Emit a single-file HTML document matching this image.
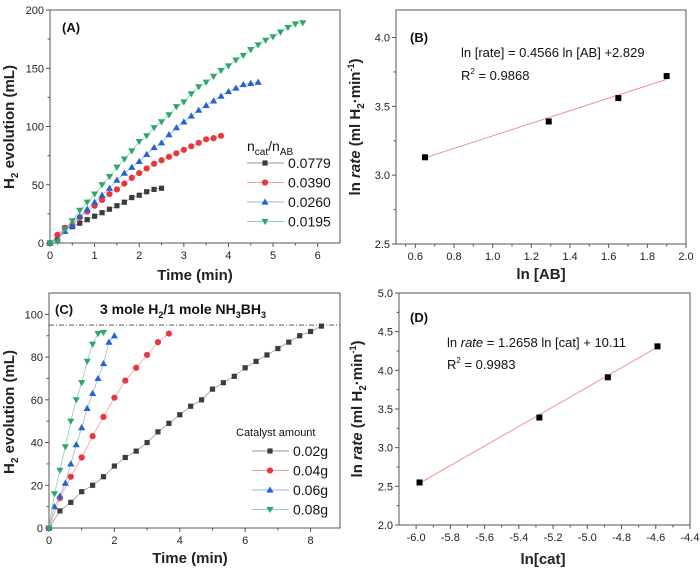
<!DOCTYPE html>
<html><head><meta charset="utf-8">
<style>
html,body{margin:0;padding:0;background:#fff;}
svg{display:block;font-family:"Liberation Sans",sans-serif;}
</style></head>
<body>
<svg id="chart" width="700" height="572" viewBox="0 0 700 572" xmlns="http://www.w3.org/2000/svg"></svg>
<script>
// ---------- Panel A data ----------
const aSeriesNames = ["0.0779","0.0390","0.0260","0.0195"];
const aStep = 1/6;
const aS1 = [0,4,13,14,17,20,23,26,29,32,35,39,41,44,46,47];
const aS2 = [0,7,13,16,22,27,32,37,42,46,51,56,60,64,68,71,74,77,80,83,86,89,90,92];
const aS3 = [0,2,10,15,23,29,35,41,47,54,60,65,70,76,82,86,93,99,104,109,114,118,122,126,130,133,136,137,138];
const aS4 = [0,1,12,19,28,35,42,50,57,65,72,79,87,92,99,104,110,117,121,128,134,138,143,148,152,157,161,166,170,174,177,181,185,188,189];
const aXTicks = [0,1,2,3,4,5,6];
const aYTicks = [0,50,100,150,200];
// ---------- Panel B data ----------
const bX = [0.65,1.29,1.65,1.90];
const bY = [3.13,3.39,3.56,3.72];
const bXTicks = [0.6,0.8,1.0,1.2,1.4,1.6,1.8,2.0];
const bYTicks = [2.5,3.0,3.5,4.0];
const bSlope = 0.4566, bIntercept = 2.829;
// ---------- Panel C data ----------
const cSeriesNames = ["0.02g","0.04g","0.06g","0.08g"];
const cS1 = [0,8,12,17,20,24,29,33,36,40,45,49,53,57,60,65,68,71,75,78,81,84,87,90,92,94.5];
const cS2 = [0,14,24,33,43,52,61,69,75,81,87,91];
const cS3 = [0,10,15,21,30,39,47,56,63,70,77,87,90];
const cS4 = [0,16,27,38,50,60,68,78,86,91,91.5];
const cSteps = [1/3,1/3,1/6,1/6];
const cXTicks = [0,2,4,6,8];
const cYTicks = [0,20,40,60,80,100];
const cRef = 95;
// ---------- Panel D data ----------
const dX = [-5.98,-5.28,-4.88,-4.59];
const dY = [2.55,3.39,3.91,4.31];
const dXTicks = [-6.0,-5.8,-5.6,-5.4,-5.2,-5.0,-4.8,-4.6,-4.4];
const dYTicks = [2.0,2.5,3.0,3.5,4.0,4.5,5.0];
const dSlope = 1.2658, dIntercept = 10.11;

const NS="http://www.w3.org/2000/svg";
const svg=document.getElementById('chart');
function el(tag,attrs,parent){const e=document.createElementNS(NS,tag);for(const k in attrs)e.setAttribute(k,attrs[k]);(parent||svg).appendChild(e);return e;}
function txt(s,attrs,parent){const e=el('text',attrs,parent);e.textContent=s;return e;}
const colors=["#3c3c3c","#e8383d","#2563d0","#2ea86a"];
const lineColors=["#999","#f3a0a0","#9bb5ea","#8fd0ae"];

function marker(g,shape,cx,cy,col,s){
  let m;
  if(shape===0) m=el('rect',{x:cx-s,y:cy-s,width:2*s,height:2*s,fill:col},g);
  else if(shape===1) m=el('circle',{cx:cx,cy:cy,r:s+0.5,fill:col},g);
  else if(shape===2) m=el('polygon',{points:`${cx},${cy-s-1} ${cx-s-1},${cy+s} ${cx+s+1},${cy+s}`,fill:col},g);
  else m=el('polygon',{points:`${cx},${cy+s+1} ${cx-s-1},${cy-s} ${cx+s+1},${cy-s}`,fill:col},g);
  
  
  return m;
}

function axes(name,L,R,T,B,xmin,xmax,ymin,ymax,xt,yt,xfmt,yfmt,xminor,yminor){
  const g=el('g',{});
  const sx=v=>L+(v-xmin)/(xmax-xmin)*(R-L);
  const sy=v=>B-(v-ymin)/(ymax-ymin)*(B-T);
  el('rect',{x:L,y:T,width:R-L,height:B-T,fill:'none',stroke:'#555','stroke-width':1},g);
  xt.forEach(v=>{const x=sx(v);el('line',{x1:x,x2:x,y1:B,y2:B+4,stroke:'#555'},g);
    const t=txt(xfmt(v),{x:x,y:B+16,'text-anchor':'middle','font-size':11,fill:'#222'},g);
    });
  xminor.forEach(v=>{const x=sx(v);el('line',{x1:x,x2:x,y1:B,y2:B+2.5,stroke:'#555'},g);});
  yt.forEach(v=>{const y=sy(v);el('line',{x1:L-4,x2:L,y1:y,y2:y,stroke:'#555'},g);
    const t=txt(yfmt(v),{x:L-6,y:y+4,'text-anchor':'end','font-size':11,fill:'#222'},g);
    });
  yminor.forEach(v=>{const y=sy(v);el('line',{x1:L-2.5,x2:L,y1:y,y2:y,stroke:'#555'},g);});
  return {sx,sy,g};
}
function halves(ticks){const r=[];for(let i=0;i<ticks.length-1;i++)r.push((ticks[i]+ticks[i+1])/2);return r;}

// ===== Panel A =====
{
  const A=axes('panel-a',50,340,10,243,0,6.5,0,200,aXTicks,aYTicks,v=>v,v=>v,halves(aXTicks.concat([7])).filter(v=>v<6.5),halves(aYTicks));
  const series=[aS1,aS2,aS3,aS4];
  series.forEach((s,i)=>{
    const g=el('g',{});
    el('polyline',{points:s.map((v,j)=>A.sx(j*aStep)+','+A.sy(v)).join(' '),fill:'none',stroke:lineColors[i],'stroke-width':0.8},g);
    s.forEach((v,j)=>marker(g,i,A.sx(j*aStep),A.sy(v),colors[i],2.6));
  });
  txt('(A)',{x:62,y:32,'font-size':13,'font-weight':'bold',fill:'#111',});
  const lg=el('g',{});
  const lt=txt('',{x:247,y:151,'font-size':14,fill:'#111'},lg);
  lt.innerHTML='n<tspan font-size="10" dy="4">cat</tspan><tspan dy="-4">/n</tspan><tspan font-size="10" dy="4">AB</tspan>';
  aSeriesNames.forEach((n,i)=>{const y=163+i*19.5;
    const e=el('g',{},lg);
    el('line',{x1:247,x2:284,y1:y,y2:y,stroke:lineColors[i],'stroke-width':1},e);
    marker(e,i,265,y,colors[i],2.6);
    txt(n,{x:288,y:y+5,'font-size':14,fill:'#111'},e);});
  txt('Time (min)',{x:195,y:280,'text-anchor':'middle','font-size':15,'font-weight':'bold',fill:'#222',});
  const yt=txt('',{transform:'translate(14,127) rotate(-90)','text-anchor':'middle','font-size':15,'font-weight':'bold',fill:'#222',});
  yt.innerHTML='H<tspan font-size="10" dy="4">2</tspan><tspan dy="-4"> evolution (mL)</tspan>';
}
// ===== Panel B =====
{
  const B=axes('panel-b',396,686,10,244,0.5,2.0,2.5,4.2,bXTicks,bYTicks,v=>v.toFixed(1),v=>v.toFixed(1),halves([0.5].concat(bXTicks)),halves(bYTicks.concat([4.5])).filter(v=>v<4.2));
  const g=el('g',{});
  const x0=bX[0],x1=bX[bX.length-1];
  el('line',{x1:B.sx(x0),y1:B.sy(bSlope*x0+bIntercept),x2:B.sx(x1),y2:B.sy(bSlope*x1+bIntercept),stroke:'#e88','stroke-width':0.9,},g);
  bX.forEach((x,i)=>marker(g,0,B.sx(x),B.sy(bY[i]),'#000',3));
  txt('(B)',{x:410,y:42,'font-size':13,'font-weight':'bold',fill:'#111',});
  txt('ln [rate] = 0.4566 ln [AB] +2.829',{x:461,y:57,'font-size':13,fill:'#111',});
  const r=txt('',{x:461,y:80,'font-size':13,fill:'#111',});
  r.innerHTML='R<tspan font-size="8" dy="-6">2</tspan><tspan dy="6"> = 0.9868</tspan>';
  txt('ln [AB]',{x:541,y:279,'text-anchor':'middle','font-size':15,'font-weight':'bold',fill:'#222',});
  const yt=txt('',{transform:'translate(360,127) rotate(-90)','text-anchor':'middle','font-size':15,'font-weight':'bold',fill:'#222',});
  yt.innerHTML='ln <tspan font-style="italic">rate</tspan> (ml H<tspan font-size="10" dy="4">2</tspan><tspan dy="-4">·min</tspan><tspan font-size="9" dy="-6">-1</tspan><tspan dy="6">)</tspan>';
}
// ===== Panel C =====
{
  const C=axes('panel-c',49,340,293,528,0,8.9,0,110,cXTicks,cYTicks,v=>v,v=>v,halves(cXTicks),halves(cYTicks));
  el('line',{x1:49,x2:340,y1:C.sy(cRef),y2:C.sy(cRef),stroke:'#444','stroke-width':0.8,'stroke-dasharray':'5,2,1,2',});
  const series=[cS1,cS2,cS3,cS4];
  series.forEach((s,i)=>{
    const g=el('g',{});
    el('polyline',{points:s.map((v,j)=>C.sx(j*cSteps[i])+','+C.sy(v)).join(' '),fill:'none',stroke:lineColors[i],'stroke-width':0.8},g);
    s.forEach((v,j)=>marker(g,i,C.sx(j*cSteps[i]),C.sy(v),colors[i],2.6));
  });
  txt('(C)',{x:55,y:314,'font-size':13,'font-weight':'bold',fill:'#111',});
  const h=txt('',{x:100,y:314,'font-size':14,'font-weight':'bold',fill:'#111',});
  h.innerHTML='3 mole H<tspan font-size="9" dy="4">2</tspan><tspan dy="-4">/1 mole NH</tspan><tspan font-size="9" dy="4">3</tspan><tspan dy="-4">BH</tspan><tspan font-size="9" dy="4">3</tspan>';
  const lg=el('g',{});
  txt('Catalyst amount',{x:236,y:436,'font-size':11,fill:'#111'},lg);
  cSeriesNames.forEach((n,i)=>{const y=451+i*19.5;
    const e=el('g',{},lg);
    el('line',{x1:252,x2:289,y1:y,y2:y,stroke:lineColors[i],'stroke-width':1},e);
    marker(e,i,270,y,colors[i],2.6);
    txt(n,{x:293,y:y+5,'font-size':14,fill:'#111'},e);});
  txt('Time (min)',{x:190,y:563,'text-anchor':'middle','font-size':15,'font-weight':'bold',fill:'#222',});
  const yt=txt('',{transform:'translate(14,412) rotate(-90)','text-anchor':'middle','font-size':15,'font-weight':'bold',fill:'#222',});
  yt.innerHTML='H<tspan font-size="10" dy="4">2</tspan><tspan dy="-4"> evolution (mL)</tspan>';
}
// ===== Panel D =====
{
  const D=axes('panel-d',399,690,293,525,-6.1,-4.4,2.0,5.0,dXTicks,dYTicks,v=>v.toFixed(1),v=>v.toFixed(1),halves([-6.2].concat(dXTicks)).filter(v=>v>-6.1),halves(dYTicks));
  const g=el('g',{});
  const x0=dX[0],x1=dX[dX.length-1];
  el('line',{x1:D.sx(x0),y1:D.sy(dSlope*x0+dIntercept),x2:D.sx(x1),y2:D.sy(dSlope*x1+dIntercept),stroke:'#e88','stroke-width':0.9,},g);
  dX.forEach((x,i)=>marker(g,0,D.sx(x),D.sy(dY[i]),'#000',3));
  txt('(D)',{x:410,y:322,'font-size':13,'font-weight':'bold',fill:'#111',});
  const eq=txt('',{x:447,y:347,'font-size':13,fill:'#111',});
  eq.innerHTML='ln <tspan font-style="italic">rate</tspan> = 1.2658 ln [cat] + 10.11';
  const r=txt('',{x:447,y:369,'font-size':13,fill:'#111',});
  r.innerHTML='R<tspan font-size="8" dy="-6">2</tspan><tspan dy="6"> = 0.9983</tspan>';
  txt('ln[cat]',{x:543,y:564,'text-anchor':'middle','font-size':15,'font-weight':'bold',fill:'#222',});
  const yt=txt('',{transform:'translate(362,409) rotate(-90)','text-anchor':'middle','font-size':15,'font-weight':'bold',fill:'#222',});
  yt.innerHTML='ln <tspan font-style="italic">rate</tspan> (ml H<tspan font-size="10" dy="4">2</tspan><tspan dy="-4">·min</tspan><tspan font-size="9" dy="-6">-1</tspan><tspan dy="6">)</tspan>';
}
</script>
</body></html>
